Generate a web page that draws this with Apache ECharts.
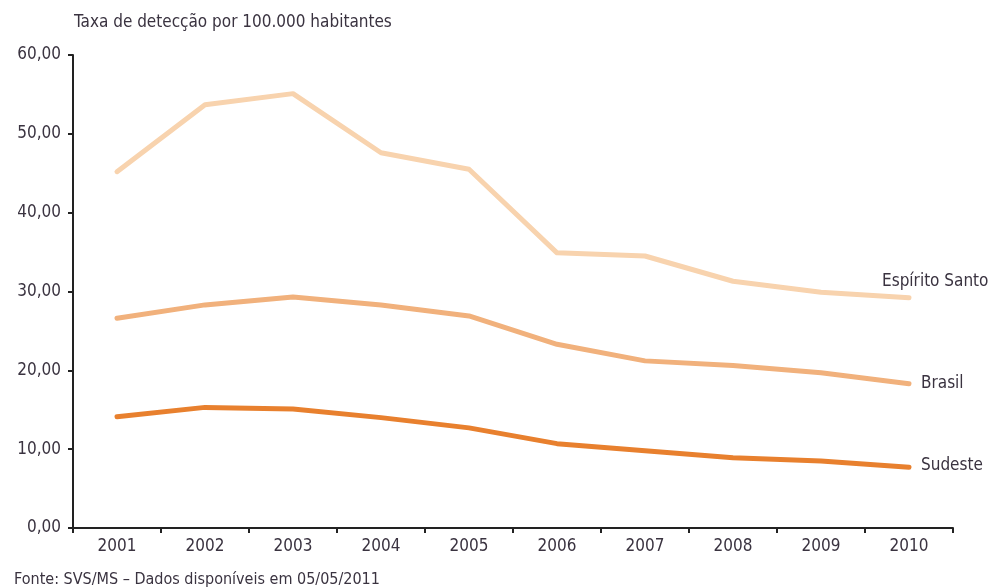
<!DOCTYPE html>
<html>
<head>
<meta charset="utf-8">
<script src="https://cdn.jsdelivr.net/npm/echarts@6/dist/echarts.min.js"></script>
<style>
  html, body { margin: 0; padding: 0; background: #fff; }
  #chart { width: 999px; height: 588px; }
</style>
</head>
<body>
<div id="chart"></div>
<script>
// anos (eixo x)
const years = ['2001', '2002', '2003', '2004', '2005', '2006', '2007', '2008', '2009', '2010'];

// taxa de detecção por 100.000 habitantes
const espiritoSanto = [45.2, 53.7, 55.1, 47.6, 45.5, 34.9, 34.5, 31.3, 29.9, 29.2];
const brasil = [26.6, 28.3, 29.3, 28.3, 26.9, 23.3, 21.2, 20.6, 19.7, 18.3];
const sudeste = [14.1, 15.3, 15.1, 14.0, 12.7, 10.7, 9.8, 8.9, 8.5, 7.7];

const FONT = '"DejaVu Sans Condensed", "Liberation Sans Narrow", "Noto Sans", sans-serif';
const TEXT = '#3a3340';

const chart = echarts.init(document.getElementById('chart'));

function lineSeries(name, data, color, offset) {
    return {
        name: name,
        type: 'line',
        data: data,
        symbol: 'none',
        silent: true,
        lineStyle: { color: color, width: 5, cap: 'round', join: 'round' },
        endLabel: {
            show: true,
            formatter: name,
            color: TEXT,
            fontFamily: FONT,
            fontSize: 17,
            offset: offset
        }
    };
}

chart.setOption({
    animation: false,
    textStyle: { fontFamily: FONT },
    title: [
        {
            text: 'Taxa de detecção por 100.000 habitantes',
            left: 69, top: 9,
            textStyle: { color: TEXT, fontFamily: FONT, fontSize: 17, fontWeight: 'normal' }
        },
        {
            text: 'Fonte: SVS/MS – Dados disponíveis em 05/05/2011',
            left: 9, top: 567,
            textStyle: { color: TEXT, fontFamily: FONT, fontSize: 16, fontWeight: 'normal' }
        }
    ],
    grid: { left: 73, right: 46, top: 55, bottom: 60 },
    xAxis: {
        type: 'category',
        data: years,
        boundaryGap: true,
        axisLine: { lineStyle: { color: '#222', width: 2 } },
        axisTick: { show: true, length: 5, lineStyle: { color: '#222', width: 2 } },
        axisLabel: { color: TEXT, fontFamily: FONT, fontSize: 17, margin: 10 },
        splitLine: { show: false }
    },
    yAxis: {
        type: 'value',
        min: 0, max: 60, interval: 10,
        axisLine: { show: true, lineStyle: { color: '#222', width: 2 } },
        axisTick: { show: true, length: 5, lineStyle: { color: '#222', width: 2 } },
        axisLabel: {
            color: TEXT, fontFamily: FONT, fontSize: 17, margin: 12,
            formatter: v => v.toFixed(2).replace('.', ',')
        },
        splitLine: { show: false }
    },
    series: [
        lineSeries('Espírito Santo', espiritoSanto, '#f8d3ae', [-35, -16]),
        lineSeries('Brasil', brasil, '#f1b17c', [4, 0]),
        lineSeries('Sudeste', sudeste, '#e8802e', [4, -2])
    ]
});
</script>
</body>
</html>
